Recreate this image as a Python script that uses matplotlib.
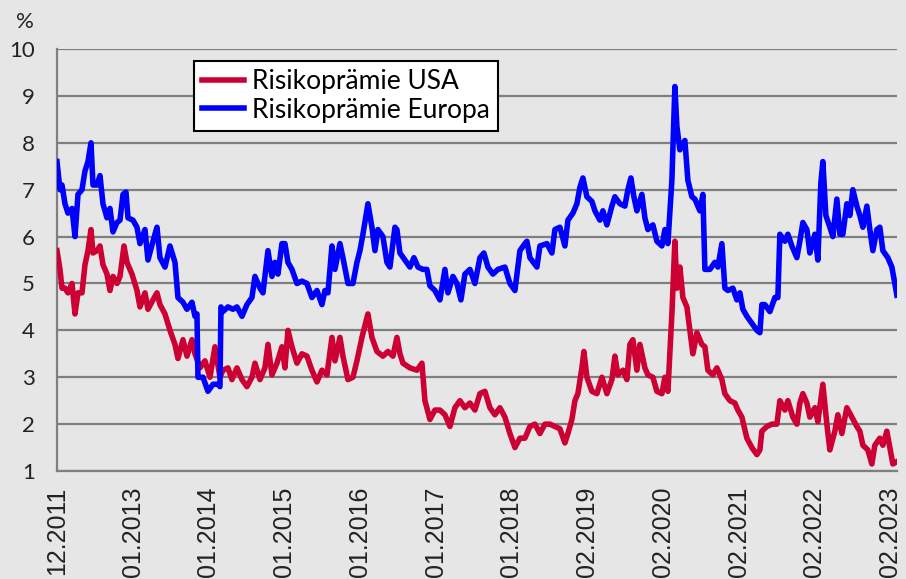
import numpy as np
import matplotlib
matplotlib.use("Agg")
import matplotlib.pyplot as plt

# x tick labels (one label per fixed number of observations)
tick_labels = ["12.2011", "01.2013", "01.2014", "01.2015", "01.2016", "01.2017",
               "01.2018", "02.2019", "02.2020", "02.2021", "02.2022", "02.2023"]

# Risikoprämie Europa: observation number, value in %
eu_t = [0, 3, 5, 8, 11, 15, 18, 21, 25, 28,
        31, 34, 36, 40, 43, 46, 50, 53, 56, 60,
        63, 66, 69, 71, 76, 80, 83, 88, 91, 96,
        100, 103, 108, 113, 118, 121, 126, 130, 135, 138,
        140, 141, 146, 151, 156, 161, 163, 164, 166, 171,
        176, 180, 185, 190, 195, 198, 203, 206, 211, 215,
        218, 221, 225, 228, 231, 235, 240, 245, 250, 255,
        260, 265, 268, 271, 275, 278, 283, 286, 291, 296,
        300, 303, 306, 311, 315, 318, 321, 326, 330, 333,
        338, 340, 343, 348, 353, 357, 361, 366, 370, 373,
        378, 383, 388, 391, 396, 400, 404, 408, 413, 418,
        423, 427, 431, 436, 441, 448, 453, 458, 463, 468,
        470, 473, 480, 483, 490, 495, 498, 503, 508, 511,
        516, 520, 523, 526, 530, 535, 538, 543, 546, 550,
        555, 558, 563, 568, 571, 574, 577, 580, 585, 588,
        591, 596, 600, 605, 608, 611, 615, 618, 620, 623,
        628, 631, 635, 638, 643, 646, 648, 653, 658, 661,
        665, 668, 671, 676, 680, 683, 686, 690, 695, 700,
        703, 705, 708, 713, 718, 721, 723, 728, 731, 735,
        740, 743, 746, 750, 753, 758, 761, 764, 766, 769,
        773, 776, 780, 783, 786, 790, 793, 796, 800, 803,
        806, 810, 813, 816, 820, 823, 826, 831, 835, 838,
        840]
eu_val = [7.6, 7.0, 7.1, 6.7, 6.5, 6.6, 6.0, 6.9, 7.0, 7.4,
          7.6, 8.0, 7.1, 7.1, 7.3, 6.7, 6.4, 6.6, 6.1, 6.3,
          6.35, 6.9, 6.95, 6.4, 6.35, 6.2, 5.85, 6.15, 5.5, 5.9,
          6.2, 5.55, 5.35, 5.8, 5.45, 4.7, 4.6, 4.45, 4.6, 4.3,
          4.35, 3.0, 3.0, 2.7, 2.85, 2.85, 2.8, 4.5, 4.4, 4.5,
          4.45, 4.5, 4.3, 4.55, 4.7, 5.15, 4.9, 4.8, 5.7, 5.15,
          5.45, 5.2, 5.85, 5.85, 5.45, 5.3, 5.0, 5.05, 5.0, 4.7,
          4.85, 4.55, 4.85, 4.8, 5.8, 5.3, 5.85, 5.55, 5.0, 5.0,
          5.45, 5.7, 6.05, 6.7, 6.2, 5.7, 6.15, 6.0, 5.45, 5.35,
          6.2, 6.15, 5.65, 5.5, 5.35, 5.55, 5.35, 5.3, 5.3, 4.95,
          4.85, 4.65, 5.3, 4.8, 5.15, 5.0, 4.65, 5.2, 5.3, 5.0,
          5.55, 5.65, 5.35, 5.2, 5.3, 5.35, 5.0, 4.85, 5.7, 5.85,
          5.9, 5.55, 5.35, 5.8, 5.85, 5.65, 6.15, 6.2, 5.8, 6.35,
          6.5, 6.7, 7.05, 7.25, 6.85, 6.75, 6.55, 6.35, 6.55, 6.25,
          6.65, 6.85, 6.7, 6.65, 7.0, 7.25, 6.85, 6.55, 6.9, 6.4,
          6.15, 6.25, 5.9, 5.8, 6.15, 5.85, 7.2, 9.2, 8.35, 7.85,
          8.05, 7.2, 6.85, 6.8, 6.55, 6.9, 5.3, 5.3, 5.45, 5.35,
          5.85, 4.9, 4.85, 4.9, 4.65, 4.8, 4.45, 4.3, 4.15, 4.0,
          3.95, 4.55, 4.55, 4.4, 4.7, 4.7, 6.05, 5.9, 6.05, 5.8,
          5.55, 5.9, 6.3, 6.15, 5.65, 6.05, 5.5, 7.15, 7.6, 6.45,
          6.2, 6.0, 6.8, 6.05, 6.05, 6.7, 6.45, 7.0, 6.65, 6.45,
          6.2, 6.65, 6.15, 5.7, 6.15, 6.2, 5.7, 5.55, 5.35, 5.0,
          4.75]

# Risikoprämie USA: observation number, value in %
us_t = [0, 3, 5, 8, 11, 15, 18, 21, 25, 28,
        31, 34, 36, 40, 43, 46, 50, 53, 56, 60,
        63, 67, 70, 75, 80, 83, 88, 91, 96, 100,
        103, 108, 113, 118, 121, 126, 130, 135, 138, 143,
        148, 153, 158, 163, 166, 171, 175, 180, 185, 190,
        195, 198, 203, 208, 211, 215, 220, 225, 228, 231,
        235, 240, 245, 250, 255, 260, 265, 270, 275, 278,
        283, 286, 291, 296, 300, 305, 311, 315, 320, 326,
        331, 336, 340, 343, 346, 353, 360, 365, 368, 373,
        378, 383, 388, 393, 398, 403, 408, 413, 418, 423,
        428, 433, 438, 443, 448, 453, 458, 463, 468, 473,
        478, 483, 488, 493, 498, 503, 508, 511, 515, 518,
        521, 525, 527, 530, 535, 540, 545, 550, 555, 558,
        561, 566, 570, 573, 576, 580, 583, 588, 591, 596,
        600, 605, 608, 611, 615, 618, 620, 623, 626, 630,
        633, 636, 640, 645, 648, 651, 656, 660, 665, 668,
        673, 678, 681, 685, 690, 695, 700, 703, 705, 710,
        715, 720, 723, 728, 731, 736, 740, 743, 746, 750,
        753, 758, 761, 766, 770, 773, 778, 781, 785, 790,
        795, 800, 803, 806, 811, 815, 818, 823, 826, 830,
        833, 836, 840]
us_val = [5.7, 5.3, 4.9, 4.9, 4.8, 5.0, 4.35, 4.8, 4.8, 5.4,
          5.7, 6.15, 5.65, 5.7, 5.8, 5.4, 5.2, 4.85, 5.15, 5.0,
          5.15, 5.8, 5.45, 5.2, 4.85, 4.5, 4.8, 4.45, 4.65, 4.8,
          4.55, 4.35, 4.0, 3.7, 3.4, 3.8, 3.45, 3.8, 3.5, 3.2,
          3.35, 3.0, 3.65, 3.0, 3.15, 3.2, 2.95, 3.2, 2.95, 2.8,
          3.0, 3.3, 2.95, 3.2, 3.7, 3.05, 3.3, 3.65, 3.2, 4.0,
          3.65, 3.3, 3.5, 3.45, 3.15, 2.9, 3.15, 3.05, 3.85, 3.35,
          3.85, 3.45, 2.95, 3.0, 3.35, 3.85, 4.35, 3.85, 3.55, 3.45,
          3.55, 3.45, 3.85, 3.5, 3.3, 3.2, 3.15, 3.3, 2.5, 2.1,
          2.3, 2.3, 2.2, 1.95, 2.35, 2.5, 2.35, 2.45, 2.3, 2.65,
          2.7, 2.35, 2.2, 2.35, 2.15, 1.8, 1.5, 1.7, 1.7, 1.95,
          2.0, 1.8, 2.0, 2.0, 1.95, 1.9, 1.6, 1.8, 2.1, 2.5,
          2.65, 3.2, 3.55, 3.0, 2.7, 2.65, 3.0, 2.65, 2.95, 3.45,
          3.05, 3.15, 2.95, 3.7, 3.8, 3.15, 3.7, 3.2, 3.05, 3.0,
          2.7, 2.65, 3.0, 2.7, 4.35, 5.9, 4.9, 5.35, 4.7, 4.5,
          4.0, 3.5, 3.95, 3.7, 3.65, 3.15, 3.05, 3.2, 2.95, 2.65,
          2.5, 2.45, 2.3, 2.15, 1.7, 1.5, 1.35, 1.45, 1.85, 1.95,
          2.0, 2.0, 2.5, 2.3, 2.5, 2.15, 2.0, 2.45, 2.65, 2.45,
          2.15, 2.35, 2.05, 2.85, 2.0, 1.45, 1.85, 2.2, 1.8, 2.35,
          2.15, 1.95, 1.85, 1.55, 1.45, 1.15, 1.55, 1.7, 1.55, 1.85,
          1.5, 1.15, 1.2]

bg = "#e6e6e6"
grid_col = "#7f7f7f"
red = "#cc0033"
blue = "#0000ff"

fig = plt.figure(figsize=(9.06, 5.79), dpi=100, facecolor=bg)
ax = fig.add_axes([0.0629, 0.1865, 0.927, 0.7288], facecolor=bg)

ax.plot(us_t, us_val, color=red, lw=4.0, solid_joinstyle="round",
        label="Risikoprämie USA", zorder=3)
ax.plot(eu_t, eu_val, color=blue, lw=4.0, solid_joinstyle="round",
        label="Risikoprämie Europa", zorder=4)

ax.set_xlim(0, 840)
ax.set_ylim(1, 10)
ax.set_yticks(range(1, 11))
ax.yaxis.grid(True, color=grid_col, lw=1.6)
ax.set_axisbelow(True)

tick_pos = np.arange(len(tick_labels)) * 75.75
ax.set_xticks(tick_pos)
ax.set_xticklabels(tick_labels, rotation=90, fontsize=18,
                   family="Liberation Sans", color="#222222")
for lab in ax.get_yticklabels():
    lab.set_family("Lato")
    lab.set_fontsize(16)
    lab.set_color("#222222")

ax.tick_params(axis="both", length=0)
ax.tick_params(axis="y", pad=16)
ax.tick_params(axis="x", pad=11)

for side in ["top", "right"]:
    ax.spines[side].set_visible(False)
for side in ["left", "bottom"]:
    ax.spines[side].set_color(grid_col)
    ax.spines[side].set_linewidth(1.6)

fig.text(25 / 906, 1 - 22 / 579, "%", fontsize=16, family="Lato",
         color="#222222", ha="center", va="center")

leg = ax.legend(loc="upper left", bbox_to_anchor=(0.163, 0.972),
                borderaxespad=0, fancybox=False, framealpha=1,
                edgecolor="black", facecolor="white",
                prop={"family": "Lato", "size": 19},
                handlelength=1.6, handletextpad=0.3, borderpad=0.3,
                labelspacing=0.15)
leg.get_frame().set_linewidth(1.5)
for line in leg.get_lines():
    line.set_linewidth(4.0)

fig.savefig("out.png", dpi=100, facecolor=bg)
